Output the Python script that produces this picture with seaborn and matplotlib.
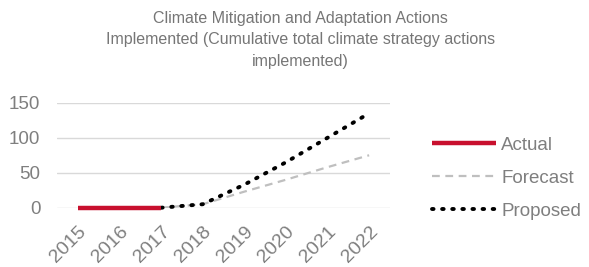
import seaborn as sns
import matplotlib.pyplot as plt
import pandas as pd

years = ["2015", "2016", "2017", "2018", "2019", "2020", "2021", "2022"]
actual = [0, 0, 0, None, None, None, None, None]
forecast = [None, None, 0, 5, 23, 40, 58, 75]
proposed = [None, None, 0, 5, 33, 65, 100, 135]

sns.set_style("white")
plt.rcParams["font.family"] = ["Liberation Sans", "DejaVu Sans"]

df = pd.DataFrame({"year": years, "Actual": actual, "Forecast": forecast, "Proposed": proposed})
df["x"] = range(len(years))

fig = plt.figure(figsize=(5.89, 2.67), dpi=100)
ax = fig.add_axes([0.097, 0.222, 0.565, 0.393])

gray = "#7f7f7f"
sns.lineplot(data=df, x="x", y="Forecast", ax=ax, color="#bfbfbf", lw=1.6,
             linestyle=(0, (3.5, 2.5)), label="Forecast")
sns.lineplot(data=df, x="x", y="Proposed", ax=ax, color="black", lw=2.8,
             linestyle=(0, (0.4, 2.2)), label="Proposed", dash_capstyle="round",
             clip_on=False)
sns.lineplot(data=df, x="x", y="Actual", ax=ax, color="#c8102e", lw=3.2, label="Actual",
             solid_capstyle="butt", clip_on=False)

ax.set_xlim(-0.5, 7.5)
ax.set_ylim(0, 150)
ax.set_yticks([0, 50, 100, 150])
ax.set_xticks(df["x"])
ax.set_xticklabels(years, rotation=45, ha="right", rotation_mode="anchor")
ax.tick_params(axis="y", colors=gray, labelsize=13.5, length=0, pad=12)
ax.tick_params(axis="x", colors=gray, labelsize=14, length=0, pad=11)
ax.grid(axis="y", color="#d9d9d9", lw=1)
ax.set_xlabel("")
ax.set_ylabel("")
for s in ax.spines.values():
    s.set_visible(False)
ax.set_axisbelow(True)

h, l = ax.get_legend_handles_labels()
order = [l.index("Actual"), l.index("Forecast"), l.index("Proposed")]
leg = ax.legend([h[i] for i in order], [l[i] for i in order], frameon=False,
                loc="center left", bbox_to_anchor=(1.126, 0.283), fontsize=13.5,
                handlelength=3.4, handletextpad=0.3, labelspacing=0.85,
                borderpad=0, borderaxespad=0)
for t in leg.get_texts():
    t.set_color(gray)

fig.text(0.51, 0.96, "Climate Mitigation and Adaptation Actions\n"
         "Implemented (Cumulative total climate strategy actions\nimplemented)",
         ha="center", va="top", color="#767676", fontsize=11.5, linespacing=1.55)

fig.savefig("out.png", dpi=100)
